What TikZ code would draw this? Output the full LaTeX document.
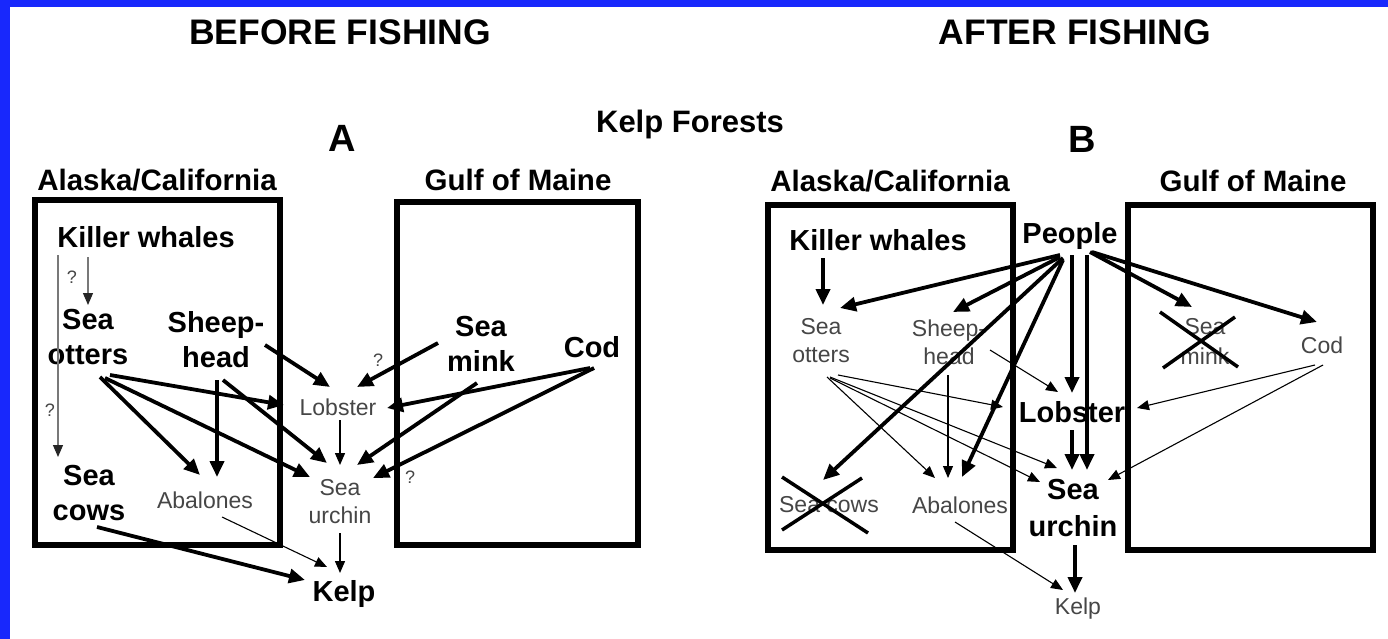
\documentclass[tikz,border=0pt]{standalone}
\usepackage{fontspec}
\setmainfont{Liberation Sans}
\usetikzlibrary{arrows.meta,calc}
\definecolor{bgblue}{RGB}{24,40,252}
\definecolor{txtgray}{RGB}{70,70,70}
\definecolor{lngray}{RGB}{120,120,120}
\begin{document}
\begin{tikzpicture}[x=1pt,y=-1pt,
  big/.style={font=\bfseries\fontsize{29}{35}\selectfont, align=center, inner sep=0pt},
  bigu/.style={font=\bfseries\fontsize{29}{37}\selectfont, align=center, inner sep=0pt},
  sml/.style={font=\fontsize{23}{28}\selectfont, text=txtgray, align=center, inner sep=0pt},
  ttl/.style={font=\bfseries\fontsize{35.5}{40}\selectfont, inner sep=0pt},
  reg/.style={font=\bfseries\fontsize{29.5}{34}\selectfont, inner sep=0pt},
  letter/.style={font=\bfseries\fontsize{38}{40}\selectfont, inner sep=0pt},
  qm/.style={font=\fontsize{18}{20}\selectfont, text=txtgray, inner sep=0pt},
  box/.style={draw, line width=5.5pt},
  thk/.style={line width=3.8pt, -{Triangle[length=16pt,width=14pt]}},
  thn/.style={line width=1.4pt, -{Triangle[length=12pt,width=10pt]}},
  vthn/.style={line width=1.1pt, -{Triangle[length=12pt,width=10pt]}},
  gthn/.style={line width=1.2pt, draw=lngray, -{Triangle[length=12pt,width=10pt,color=black!85]}},
  xmark/.style={line width=3.5pt}
]
\useasboundingbox (0,0) rectangle (1388,639);
\fill[white] (0,0) rectangle (1388,639);
\fill[bgblue] (0,0) rectangle (10,639);
\fill[bgblue] (0,0) rectangle (1388,7);

% titles
\node[ttl, anchor=base] (befT) at (340,45) {BEFORE FISHING};
\node[ttl, anchor=base] (aftT) at (1075,45) {AFTER FISHING};
\node[reg, font=\bfseries\fontsize{31}{34}\selectfont, anchor=base] (kf) at (690,133) {Kelp Forests};
\node[letter, anchor=base] (lA) at (342,152) {A};
\node[letter, anchor=base] (lB) at (1082,153) {B};
\node[reg, anchor=base] (akA) at (157,190) {Alaska/California};
\node[reg, anchor=base] (gmA) at (518,190) {Gulf of Maine};
\node[reg, anchor=base] (akB) at (890,191) {Alaska/California};
\node[reg, anchor=base] (gmB) at (1253,191) {Gulf of Maine};

% boxes
\draw[box] (35,200) rectangle (280,545);
\draw[box] (397,202) rectangle (638,545);
\draw[box] (768,205) rectangle (1013,550);
\draw[box] (1128,205) rectangle (1373,550);

% ---------- Panel A nodes
\node[big] (kwA) at (146,237) {Killer whales};
\node[big] (otA) at (88,337) {Sea\\otters};
\node[big] (shA) at (216,340) {Sheep-\\head};
\node[big] (scA) at (89,493) {Sea\\cows};
\node[sml] (abA) at (205,500) {Abalones};
\node[sml] (lbA) at (338,407) {Lobster};
\node[sml] (urA) at (340,502) {Sea\\urchin};
\node[big] (kpA) at (344,594) {Kelp};
\node[big] (mkA) at (481,344) {Sea\\mink};
\node[big] (cdA) at (592,347) {Cod};

\node[qm] (q1) at (72,277) {?};
\node[qm] (q2) at (50,410) {?};
\node[qm] (q3) at (378,360) {?};
\node[qm] (q4) at (410,477) {?};

% ---------- Panel A connectors
\draw[gthn] ($(kwA.center)+(-58,20)$) -- ($(otA.center)+(0,-32)$);
\draw[gthn] ($(kwA.center)+(-88,18)$) -- ($(scA.center)+(-31,-36)$);
\draw[thk] ($(otA.center)+(22,38)$) -- ($(lbA.center)+(-54,-2)$);
\draw[thk] ($(otA.center)+(12,40)$) -- ($(abA.center)+(-5,-25)$);
\draw[thk] ($(otA.center)+(17,41)$) -- ($(urA.center)+(-30,-25)$);
\draw[thk] ($(shA.center)+(49,5)$) -- ($(lbA.center)+(-8,-20)$);
\draw[thk] ($(shA.center)+(1,40)$) -- ($(abA.center)+(12,-23)$);
\draw[thk] ($(shA.center)+(7,40)$) -- ($(urA.center)+(-13,-39)$);
\draw[thk] ($(mkA.center)+(-43,-1)$) -- ($(lbA.center)+(19,-20)$);
\draw[thk] ($(mkA.center)+(-4,39)$) -- ($(urA.center)+(17,-37)$);
\draw[thk] ($(cdA.center)+(-2,21)$) -- ($(lbA.center)+(49,1)$);
\draw[thk] ($(cdA.center)+(2,21)$) -- ($(urA.center)+(33,-24)$);
\draw[thn] ($(lbA.center)+(2,13)$) -- ($(urA.center)+(0,-37)$);
\draw[thn] ($(urA.center)+(0,31)$) -- ($(kpA.center)+(-4,-21)$);
\draw[vthn] ($(abA.center)+(17,17)$) -- ($(kpA.center)+(-17,-27)$);
\draw[thk] ($(scA.center)+(8,34)$) -- ($(kpA.center)+(-39,-14)$);

% ---------- Panel B nodes
\node[big] (kwB) at (878,240) {Killer whales};
\node[big] (ppB) at (1070,236) {People};
\node[sml] (otB) at (821,341) {Sea\\otters};
\node[sml] (shB) at (949,342) {Sheep-\\head};
\node[sml] (scB) at (829,505) {Sea cows};
\node[sml] (abB) at (960,505) {Abalones};
\node[big] (lbB) at (1072,412) {Lobster};
\node[bigu] (urB) at (1073,508) {Sea\\urchin};
\node[sml] (kpB) at (1078,609) {Kelp};
\node[sml, font=\fontsize{23}{30}\selectfont] (mkB) at (1205,341) {Sea\\mink};
\node[sml] (cdB) at (1322,345) {Cod};

% crosses
\draw[xmark] ($(scB.center)+(-47,-28)$) -- ($(scB.center)+(39,28)$);
\draw[xmark] ($(scB.center)+(-47,25)$) -- ($(scB.center)+(33,-27)$);
\draw[xmark] ($(mkB.center)+(-45,-29)$) -- ($(mkB.center)+(33,26)$);
\draw[xmark] ($(mkB.center)+(-42,27)$) -- ($(mkB.center)+(30,-24)$);

% ---------- Panel B connectors
\draw[thk] ($(kwB.center)+(-55,18)$) -- ($(otB.center)+(2,-36)$);
\draw[thk] ($(ppB.center)+(-10,19)$) -- ($(otB.center)+(19,-33)$);
\draw[thk] ($(ppB.center)+(-10,21)$) -- ($(shB.center)+(4,-30)$);
\draw[thk] ($(ppB.center)+(-7,22)$) -- ($(scB.center)+(-6,-25)$);
\draw[thk] ($(ppB.center)+(-7,24)$) -- ($(abB.center)+(2,-28)$);
\draw[thk] ($(ppB.center)+(2,19)$) -- ($(lbB.center)+(0,-19)$);
\draw[thk] ($(ppB.center)+(17,19)$) -- ($(urB.center)+(14,-38)$);
\draw[thk] ($(ppB.center)+(20,16)$) -- ($(mkB.center)+(-13,-34)$);
\draw[thk] ($(ppB.center)+(22,16)$) -- ($(cdB.center)+(-5,-23)$);
\draw[vthn] ($(shB.center)+(41,8)$) -- ($(lbB.center)+(-14,-20)$);
\draw[vthn] ($(shB.center)+(-1,33)$) -- ($(abB.center)+(-12,-27)$);
\draw[vthn] ($(otB.center)+(17,34)$) -- ($(lbB.center)+(-69,-5)$);
\draw[vthn] ($(otB.center)+(6,36)$) -- ($(abB.center)+(-25,-27)$);
\draw[vthn] ($(otB.center)+(9,36)$) -- ($(urB.center)+(-16,-40)$);
\draw[vthn] ($(otB.center)+(9,37)$) -- ($(urB.center)+(-33,-26)$);
\draw[thk] ($(lbB.center)+(0,18)$) -- ($(urB.center)+(-1,-38)$);
\draw[vthn] ($(cdB.center)+(-7,20)$) -- ($(lbB.center)+(65,-4)$);
\draw[vthn] ($(cdB.center)+(1,20)$) -- ($(urB.center)+(35,-28)$);
\draw[thk] ($(urB.center)+(2,37)$) -- ($(kpB.center)+(-3,-16)$);
\draw[vthn] ($(abB.center)+(-5,17)$) -- ($(kpB.center)+(-15,-19)$);
\end{tikzpicture}
\end{document}
